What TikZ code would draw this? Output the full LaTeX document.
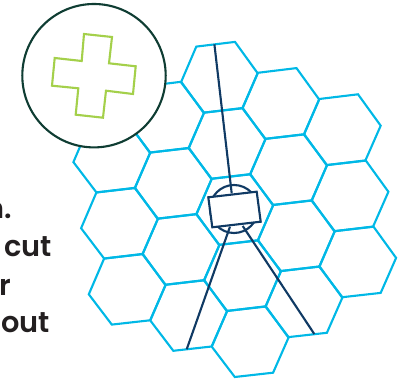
\documentclass[tikz,border=0pt]{standalone}
\usepackage{fontspec}
\setmainfont{Poppins}[BoldFont={Poppins SemiBold}]
\definecolor{hexblue}{HTML}{00B8E6}
\definecolor{navy}{HTML}{103A64}
\definecolor{lensgreen}{HTML}{0F3D33}
\definecolor{crossgreen}{HTML}{A4D04A}
\definecolor{inkgray}{HTML}{231F20}
\tikzset{
  hexline/.style={draw=hexblue,line width=1.5pt},
  rodline/.style={draw=navy,line width=1.5pt},
  bodytext/.style={anchor=base east,inner sep=0pt,text=inkgray,font=\fontsize{20.5}{20.5}\selectfont\bfseries},
}
\begin{document}
\begin{tikzpicture}[x=.025cm,y=-.025cm]
\useasboundingbox (0,0) rectangle (410,380);
\foreach \i/\first/\last in {0/0/2,-1/0/3,-2/0/4,-3/1/4,-4/2/4}{\foreach \j in {\first,...,\last}{\draw[hexline,shift={(\i*61.5+\j*7.7,\i*26.2+\j*66.1)}] (358,94.3) -- (380.7,125.7) -- (365.3,160.7) -- (327,165) -- (304,134.7) -- (319.3,99) -- cycle;}}
% sighting head and rods
\coordinate (rodtop) at (214.4,44.3);
\coordinate (headtop) at (231.7,193.3);
\coordinate (headleft) at (230,226.7);
\coordinate (headright) at (242.7,226);
\coordinate (footleft) at (186.7,349.3);
\coordinate (footright) at (314.3,334);
\draw[rodline] (234,209) circle (24);
\draw[rodline] (rodtop) -- (headtop);
\draw[rodline] (headleft) -- (footleft);
\draw[rodline] (headright) -- (footright);
\draw[rodline,fill=white] (208.3,197.3) -- (256.7,191.7) -- (260.7,221.7) -- (212.3,227.3) -- cycle;
% lens with cross
\draw[draw=lensgreen,line width=1.5pt,fill=white] (94,75.7) circle (71.7);
\draw[draw=crossgreen,line width=1.5pt] (84,34) -- (112,37) -- (109,63.3) -- (135.7,66.3) -- (133,94) -- (106,90.7) -- (103,117.7) -- (75.7,114.7) -- (78.3,88.3) -- (52,85.7) -- (54.7,58) -- (81.7,61) -- cycle;
% cut off text at the left edge
\node[bodytext] (lineone) at (12,219){n.};
\node[bodytext] (linetwo) at (52,257){cut};
\node[bodytext] (linethree) at (11,296){r};
\node[bodytext] (linefour) at (50,333){out};
\end{tikzpicture}
\end{document}
